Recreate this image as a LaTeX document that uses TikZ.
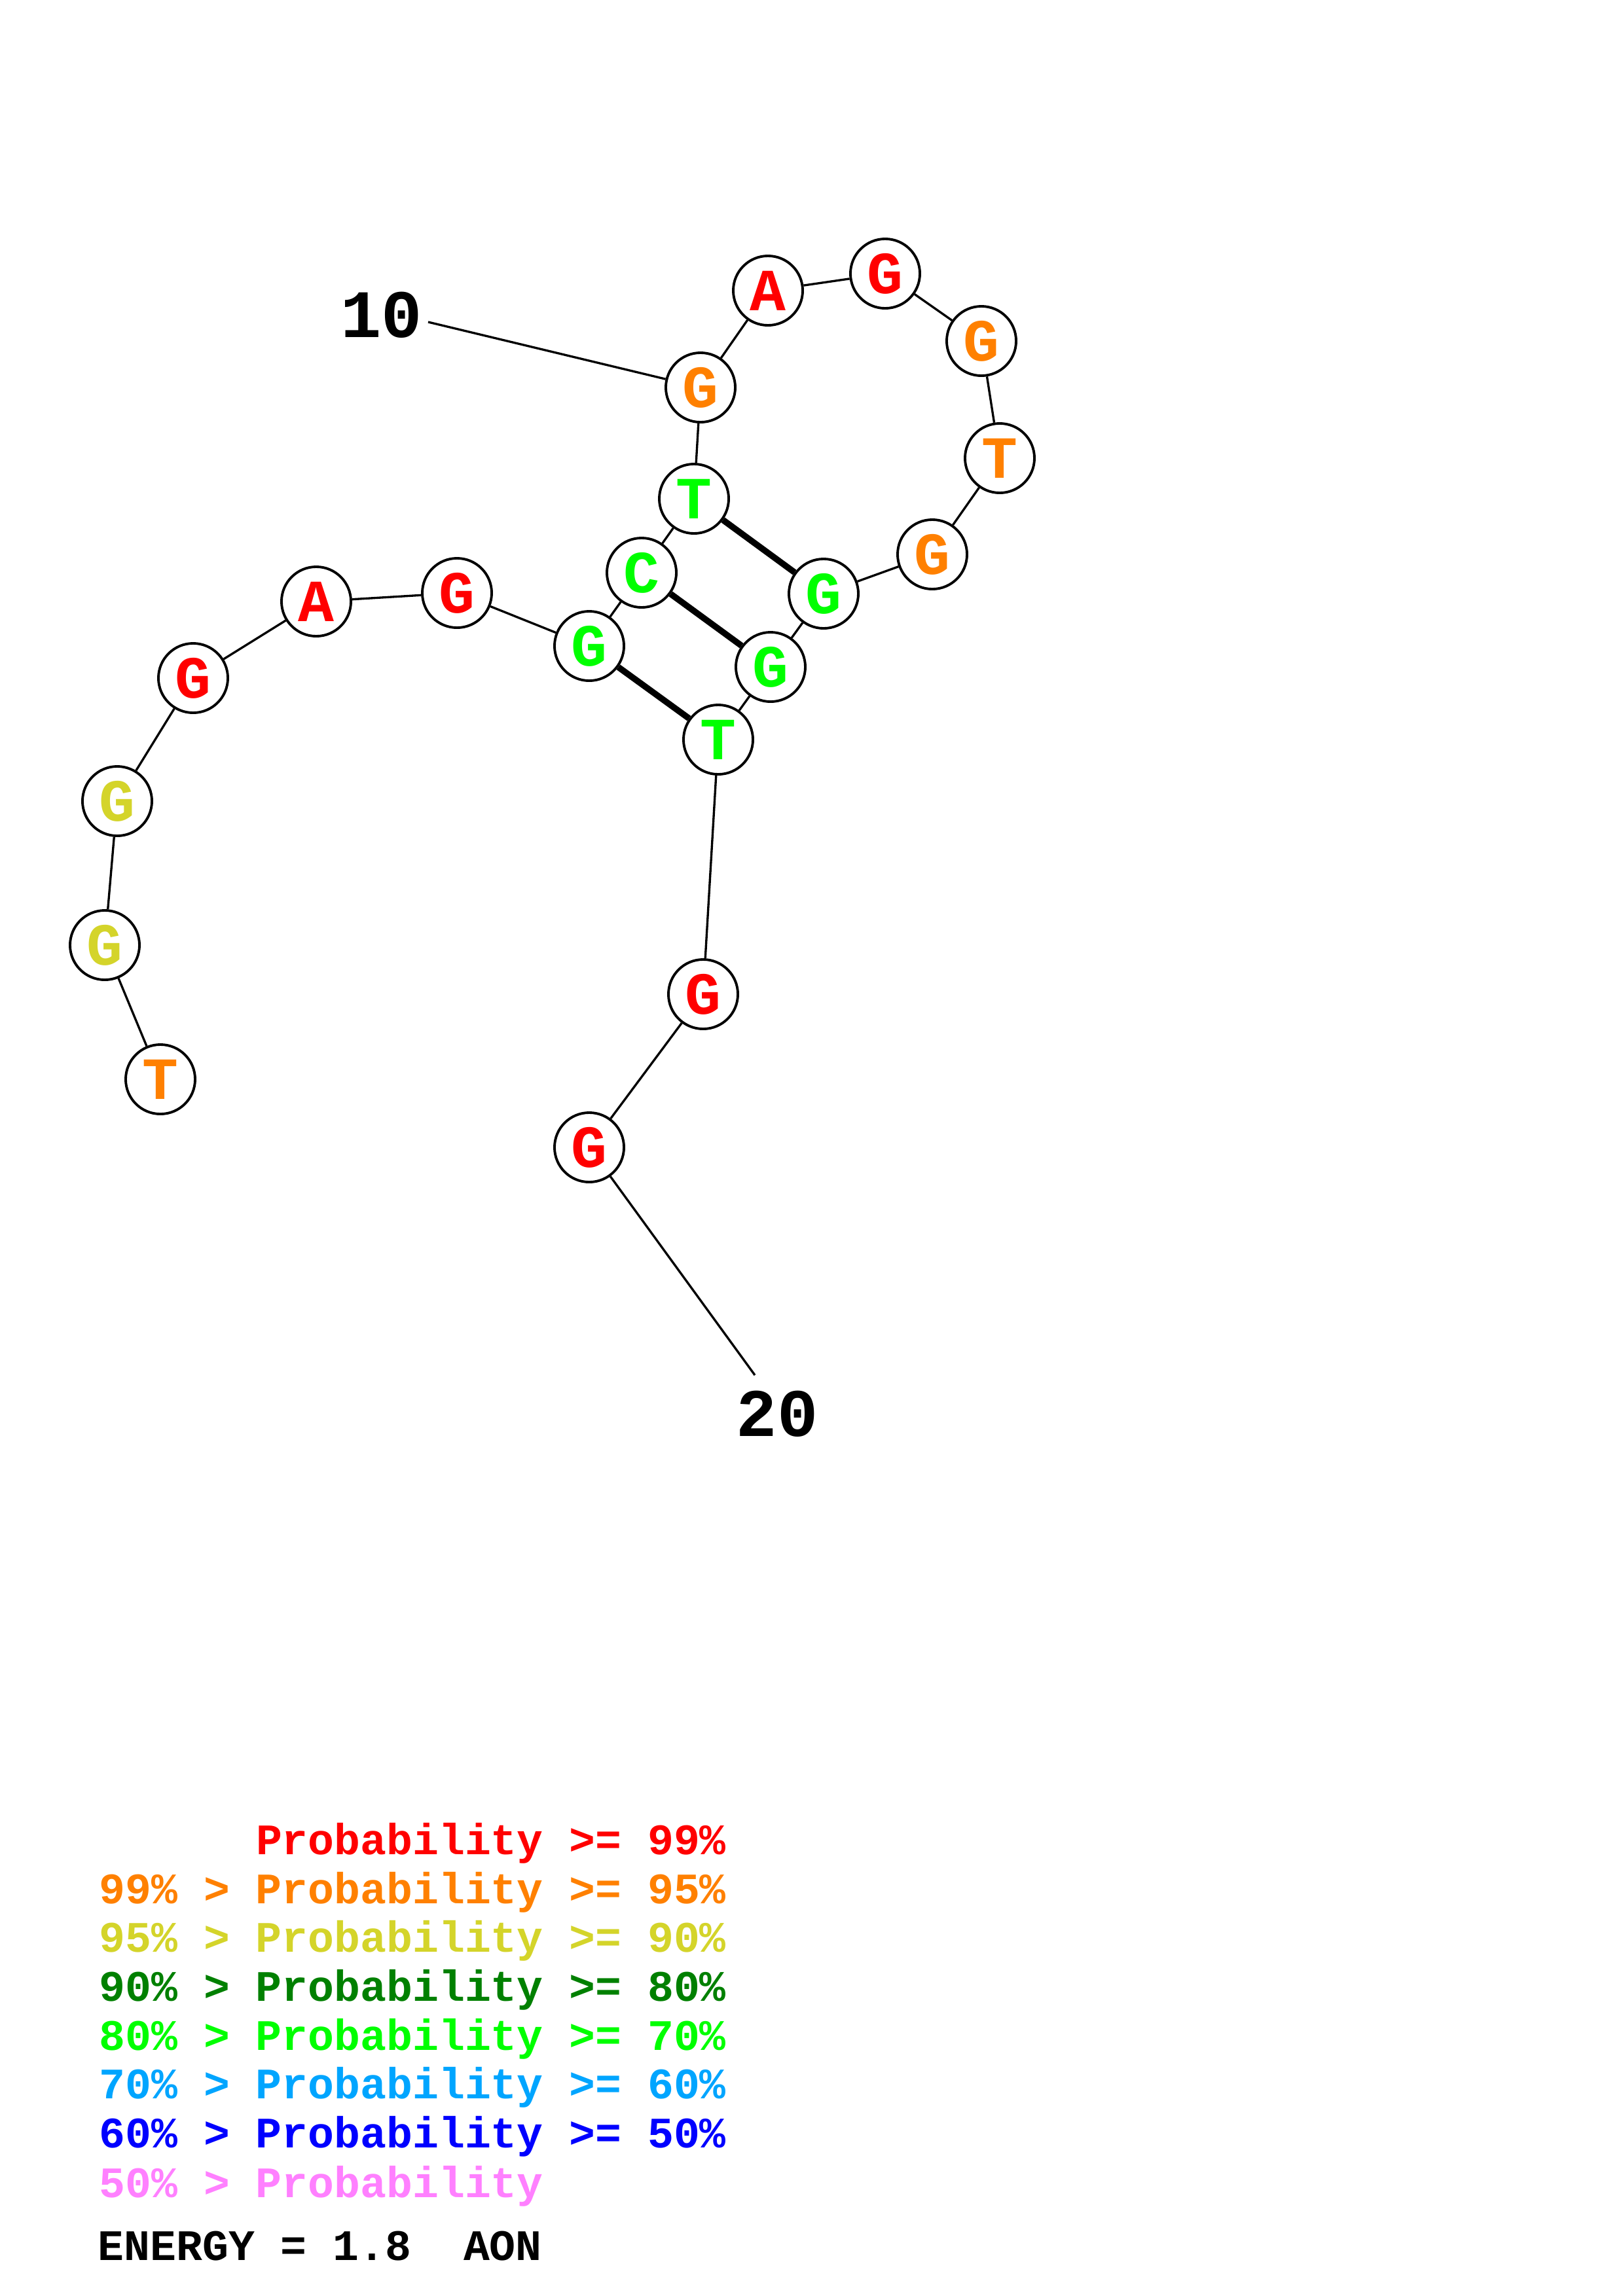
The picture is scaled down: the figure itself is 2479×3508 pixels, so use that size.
\documentclass[tikz,border=0pt]{standalone}
\usepackage{fontspec}
\newfontfamily\pmono{Liberation Mono}
\definecolor{pred}{HTML}{FF0000}
\definecolor{porange}{HTML}{FF8000}
\definecolor{pyellow}{HTML}{D4D42A}
\definecolor{pdgreen}{HTML}{008000}
\definecolor{pgreen}{HTML}{00FF00}
\definecolor{pblue}{HTML}{00A5FF}
\definecolor{pdblue}{HTML}{0000FF}
\definecolor{ppink}{HTML}{FF80FF}
\begin{document}
\begin{tikzpicture}[x=0.01cm,y=-0.01cm,
  base/.style={circle,draw=black,line width=1.1pt,fill=white,minimum size=1.06cm,inner sep=0pt,
    font=\fontsize{26}{26}\selectfont\pmono\bfseries},
  cR/.style={base,text=pred},
  cO/.style={base,text=porange},
  cY/.style={base,text=pyellow},
  cG/.style={base,text=pgreen},
  bb/.style={line width=0.95pt},
  pair/.style={line width=2.7pt},
  numlab/.style={font=\fontsize{29.5}{29.5}\selectfont\pmono\bfseries,inner sep=0pt},
  leg/.style={anchor=base west,inner sep=0pt,font=\fontsize{18.9}{18.9}\selectfont\pmono\bfseries}]
\useasboundingbox[fill=white] (0,0) rectangle (2479,3508);
\node[cO] (n1) at (245,1649) {T};
\node[cY] (n2) at (160,1444) {G};
\node[cY] (n3) at (179,1224) {G};
\node[cR] (n4) at (295,1036) {G};
\node[cR] (n5) at (483,919) {A};
\node[cR] (n6) at (698,906) {G};
\node[cG] (n7) at (900,987) {G};
\node[cG] (n8) at (980,875) {C};
\node[cG] (n9) at (1060,762) {T};
\node[cO] (n10) at (1070,592) {G};
\node[cR] (n11) at (1173,444) {A};
\node[cR] (n12) at (1352,418) {G};
\node[cO] (n13) at (1499,521) {G};
\node[cO] (n14) at (1527,700) {T};
\node[cO] (n15) at (1424,847) {G};
\node[cG] (n16) at (1258,907) {G};
\node[cG] (n17) at (1177,1019) {G};
\node[cG] (n18) at (1097,1130) {T};
\node[cR] (n19) at (1074,1519) {G};
\node[cR] (n20) at (900,1753) {G};
\node[numlab] (l10) at (583,481) {10};
\node[numlab] (l20) at (1187,2160) {20};
\coordinate (e10) at (654,492);
\coordinate (e20) at (1153,2101);
\draw[bb] (n1) -- (n2);
\draw[bb] (n2) -- (n3);
\draw[bb] (n3) -- (n4);
\draw[bb] (n4) -- (n5);
\draw[bb] (n5) -- (n6);
\draw[bb] (n6) -- (n7);
\draw[bb] (n7) -- (n8);
\draw[bb] (n8) -- (n9);
\draw[bb] (n9) -- (n10);
\draw[bb] (n10) -- (n11);
\draw[bb] (n11) -- (n12);
\draw[bb] (n12) -- (n13);
\draw[bb] (n13) -- (n14);
\draw[bb] (n14) -- (n15);
\draw[bb] (n15) -- (n16);
\draw[bb] (n16) -- (n17);
\draw[bb] (n17) -- (n18);
\draw[bb] (n18) -- (n19);
\draw[bb] (n19) -- (n20);
\draw[bb] (e10) -- (n10);
\draw[bb] (n20) -- (e20);
\draw[pair] (n9) -- (n16);
\draw[pair] (n8) -- (n17);
\draw[pair] (n7) -- (n18);
\node[leg,text=pred] (g1) at (151,2833) {\hphantom{99\% > }Probability >= 99\%};
\node[leg,text=porange] (g2) at (151,2908) {99\% > Probability >= 95\%};
\node[leg,text=pyellow] (g3) at (151,2982) {95\% > Probability >= 90\%};
\node[leg,text=pdgreen] (g4) at (151,3057) {90\% > Probability >= 80\%};
\node[leg,text=pgreen] (g5) at (151,3132) {80\% > Probability >= 70\%};
\node[leg,text=pblue] (g6) at (151,3206) {70\% > Probability >= 60\%};
\node[leg,text=pdblue] (g7) at (151,3281) {60\% > Probability >= 50\%};
\node[leg,text=ppink] (g8) at (151,3357) {50\% > Probability};
\node[leg,text=black] (g9) at (149,3453) {ENERGY = 1.8\ \ AON};
\end{tikzpicture}
\end{document}
